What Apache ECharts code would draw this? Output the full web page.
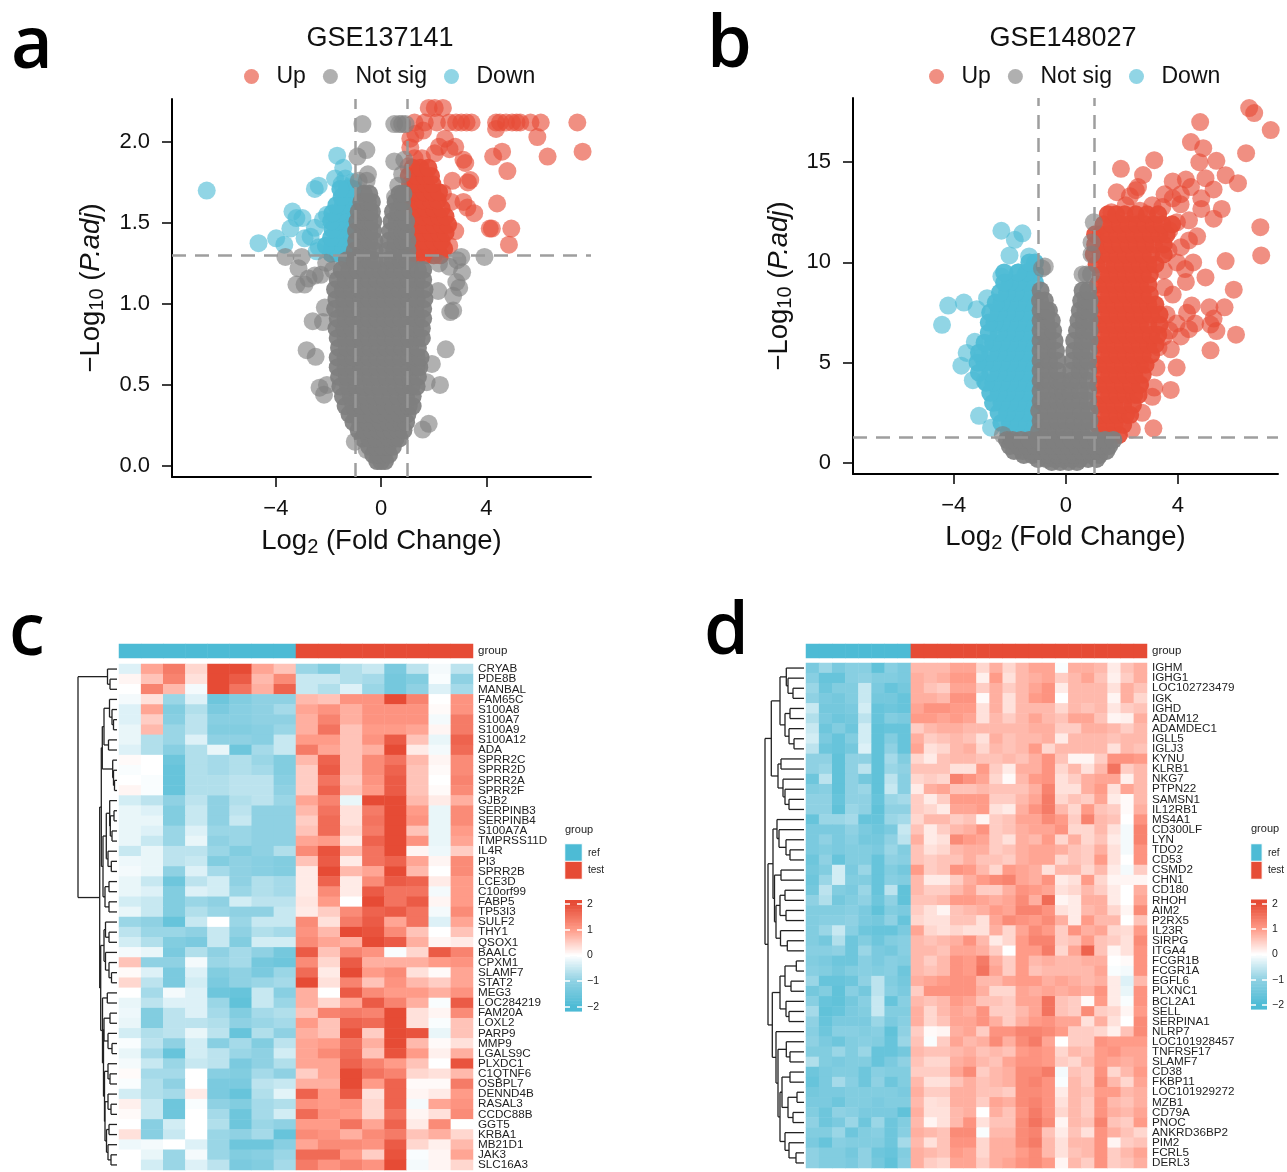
<!DOCTYPE html>
<html>
<head>
    <meta charset="utf-8">
    <title>Volcano plots and heatmaps</title>
    <script src="https://cdn.jsdelivr.net/npm/echarts@6/dist/echarts.min.js"></script>
    <style>
        html, body {margin:0;padding:0;background:#fff;overflow:hidden;}
        #chart {width:1287px;height:1172px;}
    </style>
</head>
<body>
<div id="chart"></div>
<script>
    const RED = '#E64B35', BLUE = '#4DBBD5', GREY = '#7F7F7F';
    const FONT = '"Liberation Sans", Arial, sans-serif';

    // ---- volcano a: sparse points read one by one, [log2fc, -log10 padj]
    const upA = [[1.27,2.12],[1.66,2.12],[2.12,2.12],[2.59,2.12],[2.85,2.12],[3.05,2.12],[3.25,2.12],[3.44,2.12],[4.37,2.12],[4.52,2.12],[4.75,2.12],[4.98,2.12],[5.15,2.12],[5.29,2.12],[5.68,2.12],[6.07,2.12],[7.46,2.12],
        [1.81,2.21],[2.04,2.21],[2.35,2.21],[1.6,2.07],[4.37,2.08],[5.94,2.03],[6.33,1.91],[7.66,1.94],[4.26,1.91],[4.6,1.94],[4.8,1.82],[4.41,1.62],[4.13,1.465],[4.21,1.465],[4.95,1.465],[4.86,1.366],
        [2.43,2.02],[2.82,1.97],[2.04,1.93],[3.13,1.89],[2.6,1.955],[2.71,1.76],[3.39,1.765],[3.13,1.63],[3.28,1.595],[3.54,1.56],[2.82,1.45],[2.59,1.36],[2.35,1.685],[2.66,1.63],[3.2,1.87],[3.3,1.75],
        [1.11,2.02],[1.11,1.965],[1.27,1.9],[1.04,1.85],[1.3,2.05],[2.2,1.97],[1.55,1.9]];
    // dense part of the cloud, each row is [y, x, x, ...]
    const upACore = [[1.3,1.15,1.4,1.7,2,2.25],[1.34,1.05,1.3,1.55,1.85,2.15,2.4],[1.39,1.1,1.4,1.7,2,2.3],[1.44,1.05,1.3,1.6,1.9,2.2,2.45],[1.49,1.1,1.4,1.7,2,2.3,2.55],[1.54,1.05,1.3,1.6,1.9,2.2,2.45],
        [1.59,1.1,1.4,1.7,2,2.3],[1.64,1.05,1.3,1.6,1.9,2.15],[1.69,1.05,1.35,1.65,1.95,2.2],[1.74,1.1,1.4,1.7,1.95],[1.79,1.05,1.35,1.65,1.9],[1.84,1.2,1.5,1.8]];
    const downA = [[-6.63,1.7],[-4.66,1.375],[-3.99,1.405],[-3.68,1.366],[-3.37,1.57],[-3.45,1.465],[-2.99,1.53],[-2.91,1.405],[-3.22,1.53],[-2.52,1.71],[-2.37,1.73],[-1.67,1.915],[-1.44,1.84],[-1.75,1.775],[-1.36,1.775],[-1.05,1.755],
        [-2.21,1.52],[-2.52,1.47],[-2.37,1.35],[-2.68,1.415],[-2.45,1.325],[-2.06,1.55],[-1.5,1.74],[-1.2,1.72]];
    const downACore = [[1.31,-1.15,-1.4,-1.65,-1.9],[1.36,-1.1,-1.35,-1.6,-1.85,-2.1],[1.41,-1.15,-1.4,-1.65,-1.9],[1.46,-1.1,-1.35,-1.6,-1.85],[1.51,-1.15,-1.4,-1.65,-1.9],[1.56,-1.2,-1.4,-1.6,-1.85],[1.61,-1.2,-1.45,-1.7],[1.66,-1.1,-1.3,-1.5],[1.71,-1.05,-1.3,-1.55]];
    const notSigA = [[-.71,2.11],[-.9,1.91],[-.56,1.95],[-.5,1.8],[-.85,1.76],[-.55,1.76],[.5,2.11],[.68,2.11],[.8,2.11],[.93,2.11],[.5,1.88],[.88,1.89],[.8,1.8],[.65,1.73],[.53,1.66],
        [-3.64,1.29],[-3.02,1.29],[-3.14,1.22],[-3.22,1.12],[-2.91,1.12],[-2.76,1.157],[-2.52,1.175],[-2.29,1.18],[-2.09,1.254],[-1.83,1.21],[-2.83,.715],[-2.49,.674],[-2.6,.894],[-2.21,.888],[-2.14,.978],[-2.34,.483],[-2.06,.5],[-2.17,.44],
        [3.93,1.29],[3.05,1.29],[2.9,1.27],[2.59,1.23],[2.2,1.25],[3.08,1.195],[2.86,1.135],[2.97,1.1],[2.74,1.05],[2.74,.96],[2.63,.95],[2.17,1.08],[2.46,.72],[2.24,.5],[1.93,.63],[1.73,.517],[1.81,.26],[1.58,.225],[-1,.15],[-.55,.1]];
    const notSigACore = [[.03,-.15,0,.15],[.07,-.3,-.1,.1,.3],[.12,-.45,-.2,.05,.25,.45],[.17,-.7,-.45,-.2,.05,.3,.55,.7],[.22,-.85,-.6,-.35,-.1,.15,.4,.65,.85],[.27,-1.05,-.8,-.5,-.25,0,.25,.5,.75,.95],
        [.32,-1.2,-.95,-.65,-.35,-.1,.2,.45,.7,1],[.37,-1.35,-1.05,-.75,-.45,-.15,.15,.45,.75,1.05,1.2],[.43,-1.45,-1.15,-.85,-.55,-.25,.05,.35,.65,.95,1.2],[.49,-1.55,-1.25,-.95,-.65,-.35,-.05,.25,.55,.85,1.15,1.35],
        [.55,-1.6,-1.3,-1,-.7,-.4,-.1,.2,.5,.8,1.1,1.4],[.61,-1.65,-1.35,-1.05,-.75,-.45,-.15,.15,.45,.75,1.05,1.35,1.45],[.67,-1.65,-1.35,-1.05,-.75,-.45,-.15,.15,.45,.75,1.05,1.35,1.5],[.73,-1.6,-1.3,-1,-.7,-.4,-.1,.2,.5,.8,1.1,1.4],
        [.79,-1.65,-1.35,-1.05,-.75,-.45,-.15,.15,.45,.75,1.05,1.35,1.55],[.85,-1.7,-1.4,-1.1,-.8,-.5,-.2,.1,.4,.7,1,1.3,1.55],[.91,-1.65,-1.35,-1.05,-.75,-.45,-.15,.15,.45,.75,1.05,1.35,1.6],[.97,-1.75,-1.4,-1.1,-.8,-.5,-.2,.1,.4,.7,1,1.3,1.6],
        [1.03,-1.7,-1.4,-1.05,-.75,-.45,-.15,.15,.45,.75,1.05,1.35,1.65],[1.09,-1.75,-1.45,-1.1,-.8,-.5,-.2,.1,.4,.7,1,1.3,1.65],[1.15,-1.65,-1.35,-1.05,-.75,-.45,-.15,.15,.45,.75,1.05,1.35,1.6],[1.21,-1.5,-1.2,-.9,-.6,-.3,-.05,.2,.5,.8,1.1,1.4,1.6],
        [1.27,-1.3,-1,-.75,-.45,-.25,.25,.45,.75,1],[1.33,-1,-.75,-.5,-.25,.25,.5,.75,1],[1.39,-.95,-.7,-.45,-.25,.3,.55,.8,1],[1.45,-.95,-.7,-.45,-.3,.35,.6,.8,.95],[1.51,-.9,-.65,-.45,-.3,.4,.6,.8,.95],[1.57,-.85,-.65,-.45,-.35,.45,.65,.85],[1.63,-.75,-.5,-.35,.55,.8],[1.68,-.65,-.45,.7,.85]];

    // ---- volcano b
    const upB = [[6.55,17.7],[6.73,17.45],[7.32,16.6],[4.8,17],[6.44,15.45],[4.47,16],[4.91,15.7],[4.77,15],[5.38,15.07],[3.16,15.1],[1.97,14.67],[2.76,14.36],[5.71,14.35],[6.15,13.95],[4.99,14.2],[3.82,14.04],[4.29,14.13],[5.28,13.64],
        [1.82,13.5],[2.5,13.6],[2.58,13.76],[3.53,13.4],[4.11,13.4],[4.47,13.76],[4.84,13.2],[5.57,12.67],[5.28,12.18],[4.84,12.67],[6.95,11.76],[6.98,10.35],[5.71,10.07],[4.99,9.25],[6,8.64],[5.13,7.76],[5.67,7.76],[5.28,7.2],[5.17,6.9],[5.38,6.58],[6.08,6.4],[5.17,5.62],
        [4.5,7.85],[4.33,7.49],[3.96,6.95],[4.4,6.67],[4.62,6.95],[4.11,6.31],[3.75,5.67],[3.31,5.76],[3.96,4.76],[3.24,4.76],[3.75,3.64],[3.16,3.76],[3.09,3.3],[3.13,1.73],[2.65,3.95],[2.73,2.5],[2.36,1.67],[4.69,11.3],[4.4,11.1],[3.97,12],[4.4,12.1],
        [4.26,9.67],[4.55,10],[4.29,9.03],[3.82,8.4],[3.53,8.76],[3.97,10],[3.67,10.6],[4.11,10.76],[3.82,13.2],[3.45,12.76],[3.09,12.85],[2.65,12.58],[2.14,12.85],[1.63,12.5],[2.29,13.3],[4.1,12.9],[3.7,11.6],[3.5,9.6],[3.6,7.4],[3.7,6.6],[3.5,6.3]];
    const upBCore = [[1.4,1.3,1.6,1.9],[1.9,1.15,1.45,1.75,2.05],[2.4,1.25,1.55,1.85,2.15,2.3],[2.9,1.15,1.45,1.75,2.05,2.4],[3.4,1.25,1.55,1.85,2.15,2.45,2.6],[3.9,1.15,1.45,1.75,2.05,2.35,2.65],[4.4,1.25,1.55,1.85,2.15,2.45,2.75],
        [4.9,1.15,1.45,1.75,2.05,2.35,2.65,2.85],[5.4,1.25,1.55,1.85,2.15,2.45,2.75,3.05],[5.9,1.15,1.45,1.75,2.05,2.35,2.65,2.95,3.2],[6.4,1.25,1.55,1.85,2.15,2.45,2.75,3.05,3.3],[6.9,1.15,1.45,1.75,2.05,2.35,2.65,2.95,3.35],
        [7.4,1.25,1.55,1.85,2.15,2.45,2.75,3.05,3.35],[7.9,1.15,1.45,1.75,2.05,2.35,2.65,2.95,3.2],[8.4,1.25,1.55,1.85,2.15,2.45,2.75,3],[8.9,1.15,1.45,1.75,2.05,2.35,2.65,2.95],[9.4,1.25,1.55,1.85,2.15,2.45,2.75,3],
        [9.9,1.1,1.45,1.75,2.05,2.35,2.65,2.95,3.2],[10.4,1,1.25,1.55,1.85,2.15,2.45,2.75,3.05,3.5],[10.9,1.05,1.35,1.65,1.95,2.25,2.55,2.85,3.15,3.5],[11.4,1.05,1.25,1.55,1.85,2.15,2.45,2.75,3.05,3.35,3.6],[11.9,1.35,1.65,1.95,2.25,2.55,2.85,3.15,3.45,3.8],[12.4,1.5,1.8,2.1,2.5,2.9,3.3]];
    const downB = [[-2.3,11.58],[-1.55,11.45],[-1.82,11.13],[-2.01,10.35],[-1.31,10.3],[-4.42,6.89],[-4.2,7.85],[-3.64,8],[-3.18,7.67],[-2.81,8.22],[-2.3,9.3],[-3.25,6.04],[-3.54,5.49],[-3.73,4.85],[-3.32,4.13],[-3.1,2.35],[-2.67,1.76],[-2.9,4.1],[-3,5.3],[-1.7,9.5],[-1.45,9.4]];
    const downBCore = [[1.5,-1.15,-1.45,-1.75,-2.05],[2,-1.1,-1.4,-1.7,-2,-2.3],[2.5,-1.2,-1.5,-1.8,-2.1,-2.4],[3,-1.1,-1.4,-1.7,-2,-2.3,-2.6],[3.5,-1.2,-1.5,-1.8,-2.1,-2.4,-2.7],[4,-1.1,-1.4,-1.7,-2,-2.3,-2.6,-2.85],[4.5,-1.2,-1.5,-1.8,-2.1,-2.4,-2.7,-3.1],
        [5,-1.1,-1.4,-1.7,-2,-2.3,-2.6,-2.9,-3.15],[5.5,-1.2,-1.5,-1.8,-2.1,-2.4,-2.7,-3.1],[6,-1.1,-1.4,-1.7,-2,-2.3,-2.6,-2.9],[6.5,-1.2,-1.5,-1.8,-2.1,-2.4,-2.75],[7,-1.1,-1.4,-1.7,-2,-2.3,-2.55,-2.75],[7.5,-1.2,-1.5,-1.8,-2.1,-2.4,-2.7],
        [8,-1.1,-1.4,-1.7,-2,-2.3,-2.5],[8.5,-1.2,-1.5,-1.8,-2.1,-2.35],[9,-1.1,-1.4,-1.7,-2,-2.2],[9.5,-1.1,-1.4,-1.7,-2.2],[10,-1.1,-1.3]];
    const notSigB = [[.6,9.4],[.75,9.4],[.9,9.4],[-.85,9.7],[-.75,9.8],[.92,10.4],[.92,11],[1,12],[-2.25,1.4]];
    const notSigBCore = [[.05,-.5,-.2,.1,.4],[.2,-1,-.7,-.4,-.1,.2,.5,.8,1.1],[.4,-1.5,-1.2,-.9,-.6,-.3,0,.3,.6,.9,1.2],[.6,-1.85,-1.55,-1.25,-.95,-.65,-.35,-.05,.25,.55,.85,1.15,1.45],[.85,-2,-1.7,-1.4,-1.1,-.8,-.5,-.2,.1,.4,.7,1,1.3,1.55],
        [1.15,-2.1,-1.9,-1.6,-1.3,-1,-.7,-.4,-.1,.2,.5,.8,1.1,1.4,1.7],[1.6,-.95,-.65,-.35,-.05,.25,.55,.85],[2.1,-.9,-.6,-.3,0,.3,.6,.85],[2.6,-.95,-.65,-.35,-.05,.25,.55,.85],[3.1,-.9,-.6,-.3,-.05,.2,.5,.8],[3.6,-.9,-.6,-.3,-.1,.15,.5,.8],
        [4.1,-.9,-.6,-.3,-.15,.2,.45,.8],[4.6,-.9,-.6,-.3,.2,.5,.8],[5.1,-.9,-.6,-.3,.25,.55,.8],[5.6,-.9,-.65,-.35,.3,.55,.82],[6.1,-.9,-.65,-.4,.3,.6,.85],[6.6,-.9,-.65,-.45,.4,.65,.85],[7.1,-.9,-.7,-.5,.45,.65,.85],[7.6,-.9,-.7,-.6,.5,.7,.85],[8.1,-.92,-.75,.55,.72,.85],[8.6,-.9,.6,.8]];

    const ticksXVolcano = [-4, 0, 4];
    const ticksYa = [0, 0.5, 1, 1.5, 2];
    const ticksYb = [0, 5, 10, 15];

    // ---- heatmap c
    const genesC = ['CRYAB','PDE8B','MANBAL','FAM65C','S100A8','S100A7','S100A9','S100A12','ADA','SPRR2C','SPRR2D','SPRR2A','SPRR2F','GJB2','SERPINB3','SERPINB4','S100A7A','TMPRSS11D','IL4R','PI3','SPRR2B','LCE3D','C10orf99','FABP5','TP53I3','SULF2','THY1','QSOX1','BAALC','CPXM1','SLAMF7','STAT2','MEG3','LOC284219','FAM20A','LOXL2','PARP9','MMP9','LGALS9C','PLXDC1','C1QTNF6','OSBPL7','DENND4B','RASAL3','CCDC88B','GGT5','KRBA1','MB21D1','JAK3','SLC16A3'];
    const groupC = ['ref','ref','ref','ref','ref','ref','ref','ref','test','test','test','test','test','test','test','test'];
    const exprC = [
        [-.3,.9,1.4,.4,2.1,2,.9,.6,-.9,-1.2,-.7,-.5,-1.3,-.6,-.1,-.6],
        [.1,.6,1.3,.3,2.1,1.8,.7,1.2,-.5,-.5,-.7,-.8,-1.4,-1.2,-.05,-1],
        [0,1.3,.7,-.1,2.1,1.5,.8,1.7,-.5,-.7,-.3,-.9,-1.4,-1,-.3,-.8],
        [-.1,.3,-.9,-.3,-1.5,-1.2,-1,-1,.7,.6,1.1,1.1,2,1.3,0,1.1],
        [-.3,.9,-1.2,-.7,-1.3,-1.1,-1,-.8,.9,1.1,.8,1.1,1.1,1.1,.05,1.1],
        [-.3,.5,-1.1,-.6,-1.1,-1.1,-1,-1,.8,1.3,.8,1.1,1.1,1.1,-.1,1.4],
        [-.2,.7,-.9,-.6,-1.2,-1.2,-1.1,-.9,.8,1.5,.6,1,1,.9,.1,1.4],
        [-.2,-.7,-.9,-.3,-1,-1,-1.1,-.5,1,1,.6,1.1,1.8,.6,-.2,1.7],
        [-.3,-.7,-1.1,-.7,-.2,-1.5,-.8,-.5,1.4,.9,.6,.8,2,.2,-.1,1.6],
        [.05,0,-1.5,-.7,-.8,-.7,-.9,-1.2,.7,1.7,.6,1.2,1.5,.7,.1,1.2],
        [-.05,0,-1.6,-.7,-.8,-.7,-.8,-1.2,.5,1.8,.6,1.2,1.7,.6,.05,1.2],
        [0,-.05,-1.6,-.7,-.7,-.6,-.6,-1.1,.5,1.5,.5,1.1,1.8,.6,0,1.3],
        [.1,-.05,-1.6,-.7,-.7,-.6,-.6,-1,.5,1.7,.6,1,1.8,.6,.05,1.2],
        [-.4,-.6,-1,-.6,-1,-.7,-.6,-.9,.9,1.3,-.2,2,2,.7,.2,.8],
        [-.2,-.3,-1.2,-.5,-1,-.6,-1,-1,.7,1.5,.3,1.4,2.1,1,-.2,1.2],
        [-.2,-.2,-1.2,-.5,-1,-.5,-1,-1,.5,1.6,.3,1.5,2.1,1.1,-.2,1.2],
        [-.2,-.3,-.9,-.3,-.9,-.9,-1,-1,.6,1.6,.4,1.4,2.1,.6,-.2,1],
        [-.2,-.5,-.9,-.2,-1,-.9,-1,-1,.9,1,.2,1.7,2.1,1.1,-.2,.9],
        [-.5,-.2,-.6,-.6,-.9,-1.2,-1,-.7,1.2,1.9,.7,1.5,2.1,.1,-.15,.5],
        [-.15,-.2,-.6,-.5,-1.2,-1,-1.1,-1.2,.6,1.8,.2,1.5,1.7,.9,.1,1.2],
        [-.1,-.2,-1,-.3,-.8,-1,-1.1,-1.2,.2,2.2,.7,.9,2.1,.7,0,1.2],
        [-.2,-.5,-1.5,-.6,-.4,-1,-.7,-.8,.2,1.7,.2,1.2,1.8,1.7,.2,1],
        [-.2,-.3,-1.2,-.3,-.4,-.9,-.7,-.8,.2,1.2,.2,1.8,1.5,1.5,-.1,1],
        [-.4,-.5,-1.2,-.9,-1,-.4,-.6,-.6,.25,1,0,2,1.5,1.8,.1,1],
        [-.2,-.5,-1.2,-.7,-.9,-1,-1,-.5,.2,.5,1.2,1.7,1.8,1.5,-.1,1.2],
        [-.9,-1,-1.6,-.5,0,-.9,-.5,-.5,1.2,.3,1.4,1.8,.9,1.5,-.3,.9],
        [-.6,-.9,-.9,-1,-.5,-1,-.7,-.8,1.1,.7,2,1.9,1.2,.6,0,.6],
        [-.4,-.7,-1.2,-1.3,-.5,-1.2,-.4,-.4,1.2,.9,.8,2,1.8,.8,.1,.2],
        [-.1,-.2,-1.3,-.7,-1,-.8,-1,-1.4,1.8,.6,1.3,1.1,-.05,.4,1.8,1.3],
        [.6,-1,-1,-.1,-.9,-.8,-1.4,-1.5,1.2,.4,1.8,.8,.8,.8,1,1.1],
        [.05,-.3,-1.3,-.3,-1.2,-1,-1.3,-.9,1.6,.2,2,1,1.2,.3,.05,.9],
        [.4,-.6,-1.3,-.4,-1.3,-1,-.9,-.8,2.1,.3,1.3,.6,1.1,.7,.5,.9],
        [0,-.8,-.1,-.3,-1.5,-1.6,-.5,-1.1,.8,0,1.8,1.2,1,1,.8,1.1],
        [-.2,-.6,-.3,-.3,-.9,-1.7,-.5,-.9,.8,.4,.9,1.8,1.3,.8,-.05,1.8],
        [-.15,-1.2,-.6,-.3,-.8,-1.2,-.8,-.7,.6,1.3,1.4,1.3,2.1,.3,.1,1.2],
        [-.2,-1.2,-.6,-.6,-.7,-1,-.9,-.8,1,.6,1.7,1.6,2.1,.3,-.05,.6],
        [-.4,-.7,-.6,-.2,-.6,-1.6,-.7,-1,.8,.6,1.9,.5,2.1,1.9,-.2,.6],
        [-.05,-.6,-1,-.4,-1.1,-.8,-1.2,-.6,.9,1,1.5,.8,2.2,.7,.05,.3],
        [-.2,-.8,-1.6,-.4,-.6,-.9,-1,-.4,.9,1.2,1.6,.6,1.9,1,.15,.8],
        [-.1,-.5,-.9,-.5,-.6,-1.3,-1,-.7,.9,.9,1.7,1.3,1,.6,0,1.9],
        [.05,-.8,-.8,0,-1.1,-1.2,-.8,-1,.5,.9,2.1,1.5,1.3,.4,.3,.7],
        [-.05,-.7,-1,0,-1.3,-1.3,-.6,-.5,.8,.8,2.2,1,1.7,.05,.05,1.4],
        [-.4,-.7,-.8,.2,-1.3,-1.6,-.7,-.25,1.7,1,1.8,.3,1.7,.1,.2,1],
        [.15,-.5,-1.5,-.05,-1,-1.2,-.8,-.7,1.1,1,1.1,.4,1.7,-.1,.9,1.1],
        [.05,-.5,-1.5,0,-.8,-1.5,-.8,-.4,1.6,1.1,1,.4,1.5,.1,.3,1.2],
        [0,-1.1,-.4,0,-.7,-1.5,-.9,-1,1,1,1.5,.9,1.7,.2,1.2,0],
        [.3,-1.1,-.5,0,-.9,-1,-.8,-1.6,1.2,1.1,.8,1.2,1.4,.6,.8,.4],
        [-.15,-.1,0,-.3,-.9,-1.5,-1.5,-1.1,.9,1.2,1.2,1.1,1.8,.4,.15,.7],
        [0,-.2,-.9,-.1,-.9,-1.2,-1.1,-.9,1.6,1.6,1,.5,1.9,-.05,.1,.9],
        [0,-.4,-.9,-.3,-.6,-1.3,-1.2,-.8,1.4,1.1,1.3,1.1,2.1,-.1,.1,.4]
    ];
    // merge tree of the rows: [height, left, right], a bare number is a row index
    const treeC = [39,[9.5,0,[7,1,2]],[17.3,
        [15.7,[14.7,[13,[7.5,3,[5,4,[3.5,5,6]]],[8.5,7,8]],[4.3,9,[3.5,10,[2.5,11,12]]]],
            [14,[10.7,[7.3,13,[6.7,[3,14,15],[5,16,17]]],[9,18,[5.7,19,20]]],[12,[8,21,22],[8,23,24]]]],
        [16.3,[13,[11.5,25,[8,26,27]],[11.5,28,[8,29,[5.5,30,31]]]],
            [14.5,[9.7,32,33],[13.5,[13,[7,34,35],[9,36,[5,37,38]]],[12.5,[9,39,[7,40,41]],[12,[9,42,[6,43,44]],[10.5,[8,45,46],[9,47,[6,48,49]]]]]]]]]];

    // ---- heatmap d
    const genesD = ['IGHM','IGHG1','LOC102723479','IGK','IGHD','ADAM12','ADAMDEC1','IGLL5','IGLJ3','KYNU','KLRB1','NKG7','PTPN22','SAMSN1','IL12RB1','MS4A1','CD300LF','LYN','TDO2','CD53','CSMD2','CHN1','CD180','RHOH','AIM2','P2RX5','IL23R','SIRPG','ITGA4','FCGR1B','FCGR1A','EGFL6','PLXNC1','BCL2A1','SELL','SERPINA1','NLRP7','LOC101928457','TNFRSF17','SLAMF7','CD38','FKBP11','LOC101929272','MZB1','CD79A','PNOC','ANKRD36BP2','PIM2','FCRL5','DERL3'];
    const groupD = ['ref','ref','ref','ref','ref','ref','ref','ref','test','test','test','test','test','test','test','test','test','test','test','test','test','test','test','test','test','test'];
    const exprD = [
        [-1.3,-.9,-1.3,-1.1,-1.1,-1.7,-1.1,-1.3,.7,.7,.7,.9,.9,.4,.8,.4,.7,.9,.9,-.05,.8,.8,.7,.2,.6,.8],
        [-1.1,-1.6,-1.6,-1.1,-1,-1.2,-1.2,-1.3,.8,.7,.8,1,1,.15,1,.3,.7,.8,.9,.5,.7,.9,.6,.15,.5,.8],
        [-.9,-1.5,-1.2,-1.2,-.5,-1.3,-1.6,-1.4,.8,.6,.5,.9,.9,.5,.8,.5,.7,.9,1.1,.2,.7,.7,.7,.3,.8,.6],
        [-1,-1.3,-1.4,-1.2,-.5,-1.4,-1.4,-1.6,.8,.8,.7,1.1,1.1,.05,.8,.3,.7,1,1.1,0,.7,.7,.7,.1,.8,.4],
        [-.5,-1.4,-1.4,-1.3,-.4,-1.6,-1.5,-1.6,.9,1.1,1.1,1,1,.3,.8,.3,.7,.7,.7,.4,.7,.6,.7,.25,.5,.6],
        [-.7,-1.3,-1.5,-1.4,-.6,-1.6,-1.2,-1.3,1,1,.9,1,.9,.3,.7,.5,.7,.9,.7,.6,.9,.9,.6,.1,.15,.8],
        [-.5,-1.5,-1.2,-1.5,-.4,-1.7,-1.6,-1.6,.5,.7,.8,.8,.7,.7,.7,.7,.7,.8,.8,.5,.5,.8,.8,.7,.5,.7],
        [-.4,-1.3,-1.6,-1.2,-.4,-1.7,-1.2,-1.6,.8,.5,.6,.7,.6,.3,.8,.6,.7,.7,.8,.2,.7,.7,.7,.6,.7,.7],
        [-.6,-1.5,-1.6,-1.4,-.3,-1.7,-1,-1.6,.9,.3,.4,.7,.8,.4,.7,.6,.7,1,.4,.7,.7,.7,.7,.3,.7,.6],
        [-1,-1,-1.7,-1,-1,-1.7,-.8,-1.2,.4,.2,.6,.7,.7,.6,.6,.7,.6,.8,1.1,.6,.1,.1,.5,1.1,1.1,1],
        [-1,-.9,-1.7,-1,-.6,-1.7,-.9,-1,.6,.6,.6,.3,.3,1,.5,.2,.8,.8,1.1,.4,.7,.3,.7,1.5,.5,.7],
        [-1.5,-.6,-1.7,-1,-1.4,-1.7,-.6,-1.1,.4,.5,.4,1.3,1.1,.9,.4,.05,.7,1,1.1,.3,.5,.8,.9,.9,.15,.7],
        [-1.2,-1.1,-1.7,-1,-.9,-1.7,-.5,-1.1,.2,.8,.9,.6,.6,.7,.6,.6,.6,.8,1.3,.3,.3,.8,1,.3,.9,.7],
        [-1,-1,-1.6,-1,-1,-1.6,-.9,-.8,.5,.2,.5,1,1,1,.5,.5,.7,.9,1.4,.4,.6,.5,.9,.2,.05,.7],
        [-1,-1,-1.7,-.9,-1,-1.7,-1,-1,.5,.4,.2,.9,.9,1,.3,.2,.8,1.1,1.4,.7,.4,1,.6,.5,.05,.8],
        [-1.6,-.9,-.9,-.8,-1.6,-1.6,-.9,-.8,.4,.7,.7,.5,.6,.1,.5,.6,.9,.9,1.2,1,.5,1.3,.7,.6,0,1.1],
        [-1.3,-1.3,-1.3,-1,-1.3,-1.5,-1.3,-.5,.6,.2,.5,.7,.8,1.1,.5,.6,.8,.9,.9,1.1,.4,.4,.7,.3,-.1,1.3],
        [-1.3,-1,-1.3,-1.1,-1.4,-1.4,-1,-.6,.8,.2,.3,1.2,1,.9,.5,.3,.8,.7,1,.4,.8,.4,.6,.2,-.1,1.3],
        [-1.3,-1.2,-1.3,-1.2,-1.2,-1.3,-.9,-1.2,.6,.3,.4,.7,.8,.8,.5,.6,.8,.9,.9,.8,.6,.5,.8,.3,-.1,1.1],
        [-1.5,-1,-1.6,-1.2,-1.2,-1.6,-1,-1.1,.6,.5,.6,.6,.8,.6,.6,.5,.8,.9,.9,.4,.6,.5,1,.3,0,1.1],
        [-1.4,-1.2,-.4,-1.3,-.9,-1.6,-1.2,-1.4,1,.5,.6,1.1,1,.7,.4,1,.9,.8,.3,.7,.7,.4,.7,.2,-.1,.5],
        [-1.5,-.9,-.4,-1.2,-1.2,-1.6,-1.1,-1.2,.7,.2,.2,.5,.8,1,1.2,1.3,.9,.8,1.1,.2,.3,1,.4,.1,.1,.1],
        [-1.4,-.6,-1.2,-1.3,-.9,-1.6,-.6,-1.7,.7,.5,.5,.7,.9,.5,.5,.8,1.1,1,.9,.3,.4,.7,.5,.2,0,.8],
        [-1,-.7,-1.4,-1.2,-1,-1.5,-1,-1.7,.6,.6,.7,1,1,.9,.8,.9,1.2,.8,1.6,.1,.2,.8,.8,.2,0,.9],
        [-1.2,-1.2,-1.2,-1.1,-1.3,-1.7,-1.2,-1.3,.5,.3,.1,.6,.7,.8,1,.9,1.3,1.3,1.1,.3,.2,.7,.8,.4,.1,1.2],
        [-1.2,-1.1,-1.1,-1,-1.3,-1.4,-1,-1.6,.4,.3,.3,.6,.6,.3,.9,1.2,1.1,1,1.2,.8,.2,1,.7,.7,0,.6],
        [-1.2,-.9,-.5,-1.1,-1.5,-1.6,-1.6,-1.3,.9,.4,.3,.4,.3,.3,.8,.4,.9,1.2,1,.5,1.1,.8,.9,.4,.35,1],
        [-1.2,-1.4,-.7,-1.5,-1.2,-1.5,-1.2,-1.1,.7,.6,.7,.8,1.1,.7,.2,.4,1,1.3,1.3,.5,.6,1,.6,.5,.3,1.2],
        [-1.1,-1.1,-1,-1.5,-.9,-1.3,-1.4,-1.1,.7,.7,.6,.9,.9,.8,.5,0,1,1,1.4,.4,.9,1.7,.6,.1,.3,1.1],
        [-1.2,-1.3,-1.5,-1.5,-1.1,-1.3,-1.1,-1.2,.7,.5,.7,1.1,1,1.4,.8,.5,1,.7,.8,.7,.7,.8,.8,0,.05,1.1],
        [-1.1,-1.2,-1.4,-1.2,-1.1,-1.2,-1.1,-1.5,.7,.6,.7,1.1,1,1.5,.9,.5,1,.6,.7,.7,.7,.7,.9,-.05,-.1,1.1],
        [-.9,-1.6,-1.6,-1.5,-1,-.6,-1.2,-1.4,.8,.9,1,1.1,1.1,.7,.7,.9,1,1,.8,.9,.8,.7,.8,.2,-.3,.7],
        [-1.4,-1.2,-1.7,-1.1,-1.4,-.6,-1.1,-1.3,.5,1.1,1.1,1.1,1.1,.8,.4,.4,.9,.8,.9,.8,.9,.8,1.1,.2,-.2,1.1],
        [-1.1,-1.6,-1.7,-1.4,-1.1,-.5,-1.6,-1.1,.7,.6,.7,1,.9,.6,.6,.5,.9,.9,1.5,.6,.5,.05,1,.2,-.05,1.1],
        [-.8,-1.7,-1.6,-1.3,-1.2,-.5,-1.2,-1.2,.8,.4,.7,.9,.8,1.1,.5,.5,.7,.9,1.5,.6,.5,1.2,.5,.4,.1,1],
        [-1,-1.6,-1.3,-1.3,-1.3,-.9,-1.3,-1.1,.8,.4,.6,.9,.9,1.1,.8,.5,.8,1,1.1,.9,.9,.3,.8,.3,0,1.2],
        [-1.1,-1.5,-1.1,-1.1,-1.2,-1.1,-1.7,-1,.5,.05,.1,.8,.9,.5,1.1,1.1,1.3,1.3,1.2,1,.5,.5,.4,.15,.6,1.2],
        [-1,-1.3,-1.5,-1.2,-1.1,-1.2,-1.6,-.9,.6,-.05,.5,.9,.7,.8,1.2,.8,1.2,1.4,.9,0,.5,.5,1.1,1,1,1],
        [-1.2,-1.2,-.9,-1.2,-.9,-1.6,-1.6,-1.4,.7,.6,.6,.7,.8,.6,.7,.6,1,1.1,1,.4,.7,.6,1,1.1,.9,.9],
        [-.7,-1.2,-1.3,-1.2,-1.2,-1.6,-1.3,-1,.6,.4,.4,.8,.9,.7,.6,.9,1.1,1.1,1,.5,.4,.7,1,.9,.8,.9],
        [-1.5,-1.3,-1.2,-1.2,-1.5,-1.1,-1.2,-1.2,.5,.5,.5,.9,1.2,.5,.7,.8,1.2,1.2,1.4,-.1,.6,.5,1.1,.4,.7,1],
        [-1.6,-1.3,-.8,-1.1,-1.5,-1,-1.5,-1.2,.7,.3,.3,.6,.8,.6,.7,.8,1.2,1.3,1.1,-.05,.7,.5,1.2,.7,.4,.9],
        [-1.4,-1.3,-1.3,-1.2,-1.2,-1.2,-1.2,-1.3,.8,.5,.5,.8,.8,.6,.6,.5,1.2,1.2,1.1,.2,.7,.6,1,1,.7,.8],
        [-1.3,-1.3,-1.5,-1.2,-1.2,-1.3,-1.2,-1.2,.7,.3,.35,.8,.8,.5,.9,.8,1.2,1.3,1.1,.3,.7,.5,1.1,.7,.6,.8],
        [-1.2,-1.5,-1,-1.1,-1.3,-1.3,-1.3,-1.7,.8,.3,.3,.7,.8,0,.8,.6,1.1,1.4,1.1,.4,.7,.5,1.1,.8,.7,.9],
        [-1,-1.5,-1.3,-.9,-1.5,-.9,-1.5,-1.2,.7,.1,.3,.7,1.1,.3,.6,.6,1.2,1.5,1.2,.1,.7,.6,1.3,.6,.5,1],
        [-1.2,-1.2,-.9,-1.5,-1.2,-1.1,-1.5,-1.1,.8,.7,.6,1.2,1.2,-.05,.7,.7,1.2,1.3,.6,.2,.6,.3,1.1,.8,.6,.4],
        [-1.3,-1.6,-1.1,-1.2,-1.2,-1.2,-1.5,-.8,.7,.3,.6,1.1,1.1,.4,.8,.8,1.2,1.4,.7,.3,.7,.7,1.1,.1,.5,.6],
        [-1,-1.2,-1.2,-1.4,-1,-1.5,-1.6,-1.2,.8,.7,.6,1,.9,.4,.8,.8,1,1.2,.7,.3,.6,.7,1.1,.5,.7,.9],
        [-1,-1.2,-1.2,-1.3,-1,-1.4,-1.7,-1.1,.8,.5,.4,.9,.9,.5,.8,.9,1.1,1.2,1,.1,.7,.5,1.1,.5,.6,.8]
    ];
    const treeD = [39,[32.7,[24,[17.7,0,[16,1,[11,2,3]]],[19,[14,4,5],[15,6,[10,7,8]]]],[26,[23,9,10],[21,11,[19,12,[15,13,14]]]]],
        [36,[31,[27,15,[25,16,[18,17,[14,18,19]]]],[29.5,[23,20,21],[28,[24,[19,22,23],[18,24,25]],[23.5,26,[16.7,27,28]]]]],
            [31.7,[24,[19,[7.7,29,30],[13,31,32]],[18,33,[15,34,35]]],
                [28,36,[26,[17.7,37,[14,38,39]],[24,[22,[14,40,41],[16,[7,42,43],[11,44,45]]],[19,46,[15,47,[8,48,49]]]]]]]]];

    const legendGroups = ['ref', 'test'];
    const colorbarTicks = [-2, -1, 0, 1, 2];

    // ---- helpers
    function flatten(rows) {
        const out = [];
        rows.forEach(function (r) {
            for (let i = 1; i < r.length; i++) out.push([r[i], r[0]]);
        });
        return out;
    }
    function heatCells(matrix) {
        const out = [];
        matrix.forEach(function (row, y) {
            row.forEach(function (v, x) { out.push([x, y, v]); });
        });
        return out;
    }
    function groupCells(groups) {
        return groups.map(function (g, i) { return [i, 0, g === 'ref' ? -2.2 : 2.2]; });
    }
    function treeSegments(node, out) {
        if (typeof node === 'number') return {h: 0, y: node + 0.5};
        const a = treeSegments(node[1], out), b = treeSegments(node[2], out), h = node[0];
        out.push([a.h, a.y, h, a.y], [b.h, b.y, h, b.y], [h, a.y, h, b.y]);
        return {h: h, y: (a.y + b.y) / 2};
    }
    function indexList(n) {
        const out = [];
        for (let i = 0; i < n; i++) out.push(i);
        return out;
    }
    function minusSign(v) { return String(v).replace('-', '\u2212'); }

    const grids = [], xAxes = [], yAxes = [], series = [], heatSeries = [];

    function addGrid(left, top, width, height, x, y) {
        grids.push({left: left, top: top, width: width, height: height, containLabel: false});
        const idx = grids.length - 1;
        x.gridIndex = idx;
        xAxes.push(x);
        const ys = Array.isArray(y) ? y : [y];
        const firstY = yAxes.length;
        ys.forEach(function (a) { a.gridIndex = idx; yAxes.push(a); });
        return {x: xAxes.length - 1, y: firstY};
    }

    const hidden = {axisLine: {show: false}, axisTick: {show: false}, axisLabel: {show: false}, splitLine: {show: false}};

    // ---- volcano panels
    function volcano(cfg) {
        const lineStyle = {color: '#000', width: 2};
        const ids = addGrid(cfg.left, cfg.top, cfg.width, cfg.height, {
            type: 'value', min: cfg.xMin, max: cfg.xMax, splitLine: {show: false},
            axisLine: {lineStyle: lineStyle, onZero: false},
            axisTick: {length: 10, lineStyle: {color: '#000', width: 1.5}, customValues: ticksXVolcano},
            axisLabel: {fontFamily: FONT, fontSize: 22, color: '#111', margin: 21, customValues: ticksXVolcano, formatter: minusSign},
            name: '{t|Log}{s|2}{t| (Fold Change)}', nameLocation: 'middle', nameGap: cfg.xNameGap,
            nameTextStyle: {rich: {t: {fontFamily: FONT, fontSize: 27.5, color: '#111'}, s: {fontFamily: FONT, fontSize: 20, color: '#111', padding: [12, 0, 0, 0]}}}
        }, {
            type: 'value', min: cfg.yMin, max: cfg.yMax, splitLine: {show: false},
            axisLine: {lineStyle: lineStyle, onZero: false},
            axisTick: {length: 10, lineStyle: {color: '#000', width: 1.5}, customValues: cfg.yTicks},
            axisLabel: {fontFamily: FONT, fontSize: 22, color: '#111', margin: 22, customValues: cfg.yTicks, formatter: cfg.yFormat},
            name: '{t|\u2212Log}{s|10}{t| (}{i|P.adj}{t|)}', nameLocation: 'middle', nameGap: cfg.yNameGap,
            nameTextStyle: {rich: {t: {fontFamily: FONT, fontSize: 27.5, color: '#111'}, i: {fontFamily: FONT, fontStyle: 'italic', fontSize: 27.5, color: '#111'}, s: {fontFamily: FONT, fontSize: 20, color: '#111', padding: [12, 0, 0, 0]}}}
        });
        function add(name, color, data, opacity, extra) {
            series.push(Object.assign({
                type: 'scatter', name: name, data: data, symbolSize: 18, clip: false,
                xAxisIndex: ids.x, yAxisIndex: ids.y, itemStyle: {color: color, opacity: opacity}
            }, extra || {}));
        }
        // single points stay see through, the dense middle is solid from overplotting
        add('Up', RED, cfg.up, 0.62);
        add('Up', RED, flatten(cfg.upCore), 0.92);
        add('Down', BLUE, cfg.down, 0.62);
        add('Down', BLUE, flatten(cfg.downCore), 0.92);
        add('Not sig', GREY, cfg.notSig, 0.62);
        add('Not sig', GREY, flatten(cfg.notSigCore), 0.92, {
            markLine: {
                silent: true, symbol: 'none', label: {show: false}, animation: false,
                lineStyle: {color: '#999', type: [14, 9], width: 2.5, opacity: 0.95},
                data: [{xAxis: -1}, {xAxis: 1}, {yAxis: 1.3}]
            }
        });
    }
    volcano({left: 172, top: 99, width: 419, height: 378, xMin: -7.95, xMax: 7.98, yMin: -0.068, yMax: 2.265, yTicks: ticksYa,
        yFormat: function (v) { return v.toFixed(1); }, xNameGap: 48, yNameGap: 65,
        up: upA, upCore: upACore, down: downA, downCore: downACore, notSig: notSigA, notSigCore: notSigACore});
    volcano({left: 853, top: 98, width: 425, height: 376, xMin: -7.6, xMax: 7.58, yMin: -0.55, yMax: 18.2, yTicks: ticksYb,
        yFormat: function (v) { return String(v); }, xNameGap: 47, yNameGap: 58,
        up: upB, upCore: upBCore, down: downB, downCore: downBCore, notSig: notSigB, notSigCore: notSigBCore});

    // ---- heatmap panels
    function heatmapPanel(cfg) {
        const nCols = cfg.groups.length;
        const columns = indexList(nCols);
        let ids = addGrid(cfg.left, cfg.top, cfg.width, cfg.height,
            Object.assign({type: 'category', data: columns}, hidden),
            {type: 'category', data: cfg.genes, inverse: true, position: 'right',
                axisLine: {show: false}, axisTick: {show: false}, splitLine: {show: false},
                axisLabel: {interval: 0, fontFamily: FONT, fontSize: 11.7, color: '#222', margin: 5, padding: [2, 0, 0, 0]}});
        heatSeries.push(series.length);
        series.push({type: 'heatmap', data: heatCells(cfg.matrix), xAxisIndex: ids.x, yAxisIndex: ids.y});

        ids = addGrid(cfg.left, 644, cfg.width, 14,
            Object.assign({type: 'category', data: columns}, hidden),
            {type: 'category', data: ['group'], position: 'right',
                axisLine: {show: false}, axisTick: {show: false}, splitLine: {show: false},
                axisLabel: {fontFamily: FONT, fontSize: 11.5, color: '#222', margin: 5, padding: [5, 0, 0, 0]}});
        heatSeries.push(series.length);
        series.push({type: 'heatmap', data: groupCells(cfg.groups), xAxisIndex: ids.x, yAxisIndex: ids.y});

        // dendrogram
        const segs = [];
        treeSegments(cfg.tree, segs);
        ids = addGrid(cfg.treeLeft, cfg.top, cfg.treeWidth, cfg.height,
            Object.assign({type: 'value', min: 0, max: cfg.treeWidth, inverse: true}, hidden),
            Object.assign({type: 'value', min: 0, max: 50, inverse: true}, hidden));
        series.push({
            type: 'custom', data: segs, xAxisIndex: ids.x, yAxisIndex: ids.y, silent: true,
            renderItem: function (params, api) {
                const a = api.coord([api.value(0), api.value(1)]);
                const b = api.coord([api.value(2), api.value(3)]);
                return {type: 'line', shape: {x1: a[0], y1: a[1], x2: b[0], y2: b[1]}, style: {stroke: '#222', lineWidth: 1.3}};
            }
        });

        // group swatches
        ids = addGrid(cfg.legendLeft, 844, cfg.legendWidth, 35,
            Object.assign({type: 'category', data: ['group']}, hidden),
            {type: 'category', data: legendGroups, inverse: true, position: 'right',
                axisLine: {show: false}, axisTick: {show: false}, splitLine: {show: false},
                axisLabel: {interval: 0, fontFamily: FONT, fontSize: 10, color: '#222', margin: 6}});
        heatSeries.push(series.length);
        series.push({
            type: 'heatmap', xAxisIndex: ids.x, yAxisIndex: ids.y, itemStyle: {borderColor: '#fff', borderWidth: 1},
            data: legendGroups.map(function (g, i) { return [0, i, g === 'ref' ? -2.2 : 2.2]; })
        });

        // colour bar
        const steps = [];
        for (let v = -cfg.barMax; v < cfg.barMax; v += 0.06) steps.push([0, v, v]);
        const tickStyle = {show: true, inside: true, length: 5, lineStyle: {color: '#fff', width: 1.5}, customValues: colorbarTicks};
        ids = addGrid(cfg.legendLeft, 900, cfg.legendWidth, cfg.barHeight,
            Object.assign({type: 'value', min: 0, max: 1}, hidden),
            [{type: 'value', min: -cfg.barMax, max: cfg.barMax, position: 'left', z: 5, axisLine: {show: false}, splitLine: {show: false},
                axisTick: tickStyle, axisLabel: {show: false}},
             {type: 'value', min: -cfg.barMax, max: cfg.barMax, position: 'right', z: 5, axisLine: {show: false}, splitLine: {show: false},
                axisTick: tickStyle,
                axisLabel: {fontFamily: FONT, fontSize: 10.5, color: '#222', margin: 5, customValues: colorbarTicks, formatter: minusSign}}]);
        heatSeries.push(series.length);
        series.push({
            type: 'custom', data: steps, xAxisIndex: ids.x, yAxisIndex: ids.y, silent: true,
            renderItem: function (params, api) {
                const top = api.coord([0, api.value(1) + 0.06]);
                const h = api.size([0, 0.06])[1];
                return {type: 'rect', shape: {x: params.coordSys.x, y: top[1], width: params.coordSys.width, height: h + 0.6},
                    style: {fill: api.visual('color')}};
            }
        });
        // second y axis only carries labels and right hand ticks
        series.push({type: 'custom', data: [], xAxisIndex: ids.x, yAxisIndex: ids.y + 1, renderItem: function () { return null; }});
    }
    heatmapPanel({left: 119, top: 664, width: 354, height: 506, genes: genesC, groups: groupC, matrix: exprC, tree: treeC,
        treeLeft: 77, treeWidth: 40, legendLeft: 565, legendWidth: 17, barMax: 2.16, barHeight: 111});
    heatmapPanel({left: 806, top: 663, width: 341, height: 505, genes: genesD, groups: groupD, matrix: exprD, tree: treeD,
        treeLeft: 765, treeWidth: 39, legendLeft: 1251, legendWidth: 17, barMax: 2.15, barHeight: 109});

    function headline(text, left, top, size, weight, family) {
        return {text: text, left: left, top: top, textAlign: 'left', padding: 0,
            textStyle: {fontFamily: family, fontSize: size, fontWeight: weight, color: '#000'}};
    }
    function centered(text, cx, top) {
        return {text: text, left: cx, top: top, textAlign: 'center', padding: 0,
            textStyle: {fontFamily: FONT, fontSize: 27, fontWeight: 'normal', color: '#111'}};
    }
    function volcanoLegend(left) {
        return {
            left: left, top: 65, orient: 'horizontal', padding: 0, itemWidth: 40, itemHeight: 15, itemGap: 17,
            icon: 'circle', selectedMode: false, data: ['Up', 'Not sig', 'Down'],
            textStyle: {fontFamily: FONT, fontSize: 23, color: '#111'}
        };
    }

    const chart = echarts.init(document.getElementById('chart'), null, {renderer: 'canvas'});
    chart.setOption({
        animation: false,
        backgroundColor: '#fff',
        title: [
            centered('GSE137141', 380, 25), centered('GSE148027', 1063, 25),
            headline('a', 11, 11, 72, 600, '"Open Sans"'), headline('b', 707, 10, 72, 600, '"Open Sans"'),
            headline('c', 9, 598, 72, 600, '"Open Sans"'), headline('d', 704, 597, 72, 600, '"Open Sans"'),
            {text: 'group', left: 565, top: 824, padding: 0, textStyle: {fontFamily: FONT, fontSize: 11, fontWeight: 'normal', color: '#222'}},
            {text: 'group', left: 1251, top: 823, padding: 0, textStyle: {fontFamily: FONT, fontSize: 11, fontWeight: 'normal', color: '#222'}}
        ],
        legend: [volcanoLegend(244), volcanoLegend(929)],
        tooltip: {show: false},
        visualMap: {
            type: 'continuous', show: false, min: -2, max: 2, dimension: 2,
            seriesIndex: heatSeries, inRange: {color: [BLUE, '#8FD1E3', '#FFFFFF', '#FF9B88', RED]}
        },
        grid: grids,
        xAxis: xAxes,
        yAxis: yAxes,
        series: series
    });
</script>
</body>
</html>
